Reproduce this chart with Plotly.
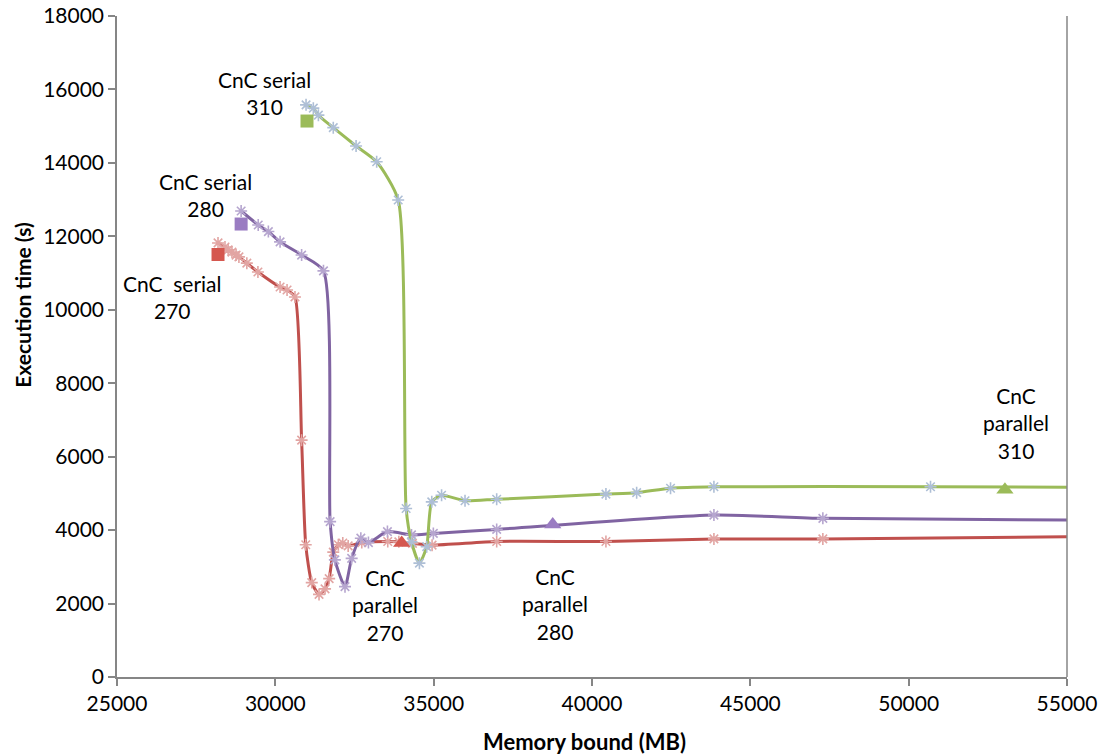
import plotly.graph_objects as go

# ---- data ----
red_x = [28190, 28410, 28510, 28630, 28760, 28850, 29100, 29450, 30150, 30370, 30620,
         30830, 30960, 31150, 31380, 31570, 31700, 31830, 31990, 32130, 32300, 32730,
         33550, 33900, 34330, 34950, 36990, 40440, 43850, 47290, 55000]
red_y = [11820, 11710, 11630, 11570, 11490, 11440, 11270, 11030, 10620, 10540, 10350,
         6450, 3600, 2570, 2250, 2400, 2680, 3400, 3600, 3650, 3570, 3660,
         3690, 3680, 3640, 3590, 3690, 3690, 3760, 3760, 3820]

purple_x = [28920, 29460, 29780, 30150, 30830, 31520, 31730, 31880, 32200, 32410, 32700,
            32940, 33540, 34300, 34990, 36990, 43850, 47290, 55000]
purple_y = [12690, 12310, 12130, 11850, 11490, 11060, 4230, 3190, 2460, 3230, 3780,
            3660, 3960, 3870, 3910, 4020, 4410, 4320, 4275]

green_x = [30970, 31200, 31360, 31830, 32550, 33200, 33880, 34130, 34300, 34550, 34780,
           34940, 35250, 35990, 36990, 40440, 41410, 42480, 43850, 50690, 55000]
green_y = [15580, 15490, 15300, 14960, 14460, 14030, 12990, 4590, 3680, 3100, 3550,
           4770, 4950, 4800, 4840, 4980, 5020, 5140, 5180, 5180, 5170]

serial_x = [28190, 28920, 31000]      # 270, 280, 310
serial_y = [11505, 12335, 15140]
parallel_x = [33990, 38760, 53040]
parallel_y = [3650, 4150, 5100]

labels = ["CnC  serial<br>270", "CnC serial<br>280", "CnC serial<br>310",
          "CnC<br>parallel<br>270", "CnC<br>parallel<br>280", "CnC<br>parallel<br>310"]
label_x = [26737, 27779, 29642, 33463, 38832, 53390]
label_y = [10347, 13125, 15902, 1961, 1988, 6916]

# ---- style ----
RED, PURPLE, GREEN = "#c0504d", "#8064a2", "#9bbb59"
RED_M, PURPLE_M, GREEN_M = "#e2a5a3", "#b6a6cf", "#aebfd6"
FONT = "Lato"
AX = "#868686"

fig = go.Figure()
for xs, ys, col, mcol in [(red_x, red_y, RED, RED_M),
                          (purple_x, purple_y, PURPLE, PURPLE_M),
                          (green_x, green_y, GREEN, GREEN_M)]:
    fig.add_trace(go.Scatter(x=xs, y=ys, mode="lines",
                             line=dict(color=col, width=3, shape="spline", smoothing=0.6),
                             hoverinfo="skip", showlegend=False))
    fig.add_trace(go.Scatter(x=xs[:-1], y=ys[:-1], mode="markers",
                             marker=dict(symbol="asterisk-open", size=10, color=mcol,
                                         line=dict(color=mcol, width=1.6)),
                             showlegend=False))

fig.add_trace(go.Scatter(x=serial_x, y=serial_y, mode="markers",
                         marker=dict(symbol="square", size=13, color=["#d5574f", "#9a7cc2", "#9bbb59"]),
                         showlegend=False))
fig.add_trace(go.Scatter(x=parallel_x, y=parallel_y, mode="markers",
                         marker=dict(symbol="triangle-up", size=15, color=["#d5574f", "#9a7cc2", "#9bbb59"]),
                         showlegend=False))

for t, x, y in zip(labels, label_x, label_y):
    fig.add_annotation(x=x, y=y, text=t, showarrow=False,
                       font=dict(family=FONT, size=21, color="black"),
                       xanchor="center", yanchor="middle", align="center")

fig.add_annotation(xref="paper", yref="paper", x=-0.099, y=0.563, text="<b>Execution time (s)</b>",
                   textangle=-90, showarrow=False, font=dict(family=FONT, size=21, color="black"),
                   xanchor="center", yanchor="middle")
fig.add_annotation(xref="paper", yref="paper", x=0.4916, y=-0.098, text="<b>Memory bound (MB)</b>",
                   showarrow=False, font=dict(family=FONT, size=22, color="black"),
                   xanchor="center", yanchor="middle")

fig.add_shape(type="line", xref="paper", yref="paper", x0=1, x1=1, y0=0, y1=1,
              line=dict(color=AX, width=1.5))

# the page body has an 8px margin: shift the figure up/left by that amount
fig.update_layout(
    width=1099, height=747,
    margin=dict(l=109, r=40, t=8, b=78, autoexpand=False),
    paper_bgcolor="white", plot_bgcolor="white",
    font=dict(family=FONT, size=21, color="black"),
    xaxis=dict(range=[25000, 55000], dtick=5000, tick0=25000, showgrid=False, zeroline=False,
               showline=True, linecolor=AX, linewidth=1.5, ticks="outside", ticklen=7,
               tickcolor=AX, tickwidth=1.5, tickformat="d", automargin=False,
               ticklabeloverflow="allow"),
    yaxis=dict(range=[0, 18000], dtick=2000, showgrid=False, zeroline=False,
               showline=True, linecolor=AX, linewidth=1.5, ticks="outside", ticklen=7,
               tickcolor=AX, tickwidth=1.5, tickformat="d", automargin=False,
               ticklabeloverflow="allow"),
)

fig.write_html("out.html")
